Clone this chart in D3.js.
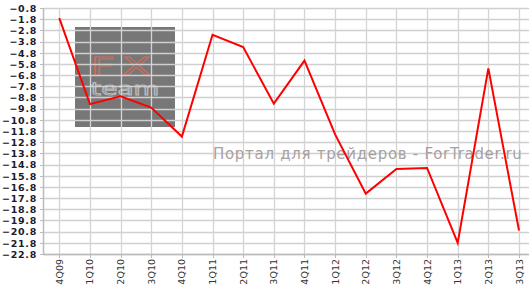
<!DOCTYPE html>
<html>
<head>
<meta charset="utf-8">
<script src="https://cdn.jsdelivr.net/npm/d3@7"></script>
<style>
  body { margin: 0; background: #fff; }
  svg { display: block; }
  .ylab { font-family: "DejaVu Sans", Verdana, sans-serif; font-size: 9.5px; font-weight: bold; letter-spacing: 0.7px; fill: #1a1a2a; }
  .xlab { font-family: "DejaVu Sans", Verdana, sans-serif; font-size: 9.5px; fill: #333; }
</style>
</head>
<body>
<div id="chart"></div>
<script>
!function(){

  var categories = ['4Q09','1Q10','2Q10','3Q10','4Q10','1Q11','2Q11','3Q11','4Q11',
                    '1Q12','2Q12','3Q12','4Q12','1Q13','2Q13','3Q13'];
  var values = [-1.7, -9.4, -8.7, -9.7, -12.3, -3.2, -4.3, -9.35, -5.5,
                -12.1, -17.4, -15.2, -15.1, -21.8, -6.2, -20.7];
  var yTicks = [-0.8,-1.8,-2.8,-3.8,-4.8,-5.8,-6.8,-7.8,-8.8,-9.8,-10.8,-11.8,
                -12.8,-13.8,-14.8,-15.8,-16.8,-17.8,-18.8,-19.8,-20.8,-21.8,-22.8];

  var width = 529, height = 288;
  var left = 43, right = 529, top = 8, bottom = 254;

  var svg = d3.select('#chart').append('svg')
    .attr('width', width)
    .attr('height', height);

  var x = d3.scalePoint().domain(categories).range([59.3, 519]);
  var y = d3.scaleLinear().domain([-22.8, -0.8]).range([bottom, top]);

  // watermark logo box (behind grid)
  var logo = svg.append('g');
  logo.append('rect')
    .attr('x', 75).attr('y', 27)
    .attr('width', 100).attr('height', 100)
    .style('fill', '#777');
  logo.append('text')
    .attr('transform', 'translate(124,75) scale(1.75,1)')
    .attr('text-anchor', 'middle')
    .style('font-family', '"DejaVu Sans", sans-serif')
    .style('font-size', '24px')
    .style('letter-spacing', '4px')
    .style('fill', 'none')
    .style('stroke', '#c47060')
    .style('stroke-width', '1px')
    .text('FX');
  logo.append('text')
    .attr('transform', 'translate(125,95) scale(1.55,1)')
    .attr('text-anchor', 'middle')
    .style('font-family', '"DejaVu Sans", sans-serif')
    .style('font-size', '17px')
    .style('fill', 'none')
    .style('stroke', '#bdbdbd')
    .style('stroke-width', '0.9px')
    .text('team');

  // grid
  svg.append('g').selectAll('line')
    .data(yTicks)
    .enter().append('line')
    .attr('x1', left).attr('x2', right)
    .attr('y1', function(d){ return Math.round(y(d)) + 0.5; })
    .attr('y2', function(d){ return Math.round(y(d)) + 0.5; })
    .style('stroke', '#cfcfcf')
    .style('stroke-width', '1.3px');

  svg.append('g').selectAll('line')
    .data(categories)
    .enter().append('line')
    .attr('y1', top).attr('y2', bottom)
    .attr('x1', function(d){ return Math.round(x(d)) + 0.5; })
    .attr('x2', function(d){ return Math.round(x(d)) + 0.5; })
    .style('stroke', '#d4d4d4')
    .style('stroke-width', '1.3px');

  // site watermark
  svg.append('text')
    .attr('x', 213).attr('y', 159)
    .style('font-family', '"DejaVu Sans", Verdana, sans-serif')
    .style('font-size', '15px')
    .style('letter-spacing', '0.7px')
    .style('fill', '#a89f9f')
    .text('Портал для трейдеров - ForTrader.ru');

  // axes
  var yAxis = svg.append('g');
  yAxis.append('line')
    .attr('x1', left + 0.5).attr('x2', left + 0.5)
    .attr('y1', top).attr('y2', bottom + 1)
    .style('stroke', '#bbb').style('stroke-width', '1.5px');
  yAxis.selectAll('.tick')
    .data(yTicks)
    .enter().append('line')
    .attr('x1', left - 3).attr('x2', left)
    .attr('y1', function(d){ return Math.round(y(d)) + 0.5; })
    .attr('y2', function(d){ return Math.round(y(d)) + 0.5; })
    .style('stroke', '#bbb');
  yAxis.selectAll('text')
    .data(yTicks)
    .enter().append('text')
    .attr('class', 'ylab')
    .attr('x', 37)
    .attr('y', function(d){ return y(d) + 0.5; })
    .attr('dy', '0.35em')
    .attr('text-anchor', 'end')
    .text(function(d){ return d3.format('.1f')(d); });

  var xAxis = svg.append('g');
  xAxis.append('line')
    .attr('x1', left).attr('x2', right)
    .attr('y1', bottom + 0.5).attr('y2', bottom + 0.5)
    .style('stroke', '#bbb').style('stroke-width', '1.5px');
  xAxis.selectAll('.tick')
    .data(categories)
    .enter().append('line')
    .attr('x1', function(d){ return Math.round(x(d)) + 0.5; })
    .attr('x2', function(d){ return Math.round(x(d)) + 0.5; })
    .attr('y1', bottom).attr('y2', bottom + 4)
    .style('stroke', '#bbb');
  xAxis.selectAll('text')
    .data(categories)
    .enter().append('text')
    .attr('class', 'xlab')
    .attr('text-anchor', 'end')
    .attr('transform', function(d){ return 'translate(' + (x(d) + 3.5) + ',259) rotate(-90)'; })
    .text(function(d){ return d; });

  // series line
  var line = d3.line()
    .x(function(d, i){ return x(categories[i]); })
    .y(function(d){ return y(d); });

  svg.append('path')
    .datum(values)
    .attr('d', line)
    .style('fill', 'none')
    .style('stroke', '#ff0000')
    .style('stroke-width', '2px')
    .style('stroke-linejoin', 'miter');
}();
</script>
</body>
</html>
